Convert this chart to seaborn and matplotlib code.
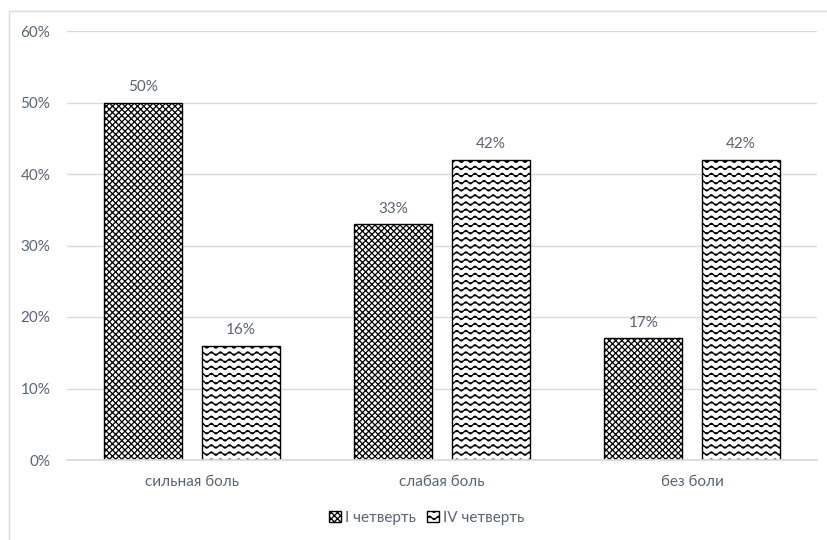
import numpy as np
import pandas as pd
import matplotlib
matplotlib.use("Agg")
import matplotlib.pyplot as plt
import matplotlib.hatch as mhatch
from matplotlib.path import Path
from matplotlib.patches import Rectangle
from matplotlib.ticker import FuncFormatter
import seaborn as sns

# ---- data -------------------------------------------------------------
categories = ["сильная боль", "слабая боль", "без боли"]
series = ["I четверть", "IV четверть"]
q1_values = [50, 33, 17]
q4_values = [16, 42, 42]
y_ticks = [0, 10, 20, 30, 40, 50, 60]


# ---- custom hatch patterns --------------------------------------------
class WaveHatch(mhatch.HatchPatternBase):
    """Rows of sine waves, one block of rows per '~'."""
    rows_per_char = 7
    periods = 11
    amplitude = 0.017
    points = 89

    def __init__(self, hatch, density):
        self.num_rows = int(hatch.count('~') * self.rows_per_char)
        self.num_vertices = self.num_rows * self.points

    def set_vertices_and_codes(self, vertices, codes):
        t = np.linspace(0.0, 1.0, self.points)
        ys = (np.arange(self.num_rows) + 0.5) / self.num_rows
        wave = self.amplitude * np.sin(2 * np.pi * self.periods * t)
        vertices[:, 0] = np.tile(t, self.num_rows)
        vertices[:, 1] = (ys[:, None] + wave[None, :]).ravel()
        c = np.full(self.points, Path.LINETO, dtype=codes.dtype)
        c[0] = Path.MOVETO
        codes[:] = np.tile(c, self.num_rows)


class FineGridHatch(mhatch.HatchPatternBase):
    """Dense diagonal lattice, 8 lines per '#' across the unit cell."""
    lines_per_char = 8

    def __init__(self, hatch, density):
        self.n = int(hatch.count('#') * self.lines_per_char)
        # two directions, 2n lines each (offsets -1..1), 2 vertices per line
        self.num_vertices = self.n * 2 * 2 * 2

    def set_vertices_and_codes(self, vertices, codes):
        n = self.n
        c = np.arange(-n, n) / n          # line offsets
        m = 2 * n
        # north-east lines: y = x + c
        vertices[0:2 * m:2, 0] = 0.0
        vertices[0:2 * m:2, 1] = c
        vertices[1:2 * m:2, 0] = 1.0
        vertices[1:2 * m:2, 1] = 1.0 + c
        # south-east lines: y = -x + 1 + c
        vertices[2 * m::2, 0] = 0.0
        vertices[2 * m::2, 1] = 1.0 + c
        vertices[2 * m + 1::2, 0] = 1.0
        vertices[2 * m + 1::2, 1] = c
        codes[0::2] = Path.MOVETO
        codes[1::2] = Path.LINETO


mhatch._hatch_types.extend([WaveHatch, FineGridHatch])
_orig_validate = mhatch._validate_hatch_pattern
mhatch._validate_hatch_pattern = lambda h: _orig_validate(
    h.replace('~', '').replace('#', '') if isinstance(h, str) else h)

# ---- figure -----------------------------------------------------------
sns.set_theme(style="white")
plt.rcParams["font.family"] = ["Lato", "DejaVu Sans"]
plt.rcParams["hatch.linewidth"] = 0.9

text_color = "#5b6472"
grid_color = "#d9d9d9"

df = pd.DataFrame({
    "category": categories * 2,
    "period": [series[0]] * 3 + [series[1]] * 3,
    "value": q1_values + q4_values,
})

fig = plt.figure(figsize=(8.28, 5.40), dpi=100)
ax = fig.add_axes([67 / 828, 80 / 540, 750 / 828, 429 / 540])

sns.barplot(data=df, x="category", y="value", hue="period",
            order=categories, hue_order=series,
            palette=["white", "white"], edgecolor="black", linewidth=1.0,
            width=0.78, gap=0.2, legend=False, ax=ax)

hatches = ["##", "~~"]
for container, hatch in zip(ax.containers, hatches):
    for bar in container:
        bar.set_hatch(hatch)
        bar.set_edgecolor("black")
    ax.bar_label(container, labels=[f"{v:.0f}%" for v in container.datavalues],
                 padding=6, color=text_color, fontsize=11)

ax.set_xlim(-0.5, 2.5)
ax.set_ylim(0, 60)
ax.set_yticks(y_ticks)
ax.yaxis.set_major_formatter(FuncFormatter(lambda v, _: f"{v:.0f}%"))
ax.grid(axis="y", color=grid_color, linewidth=1.0)
ax.set_axisbelow(True)
for side in ["top", "right", "left"]:
    ax.spines[side].set_visible(False)
ax.spines["bottom"].set_color(grid_color)
ax.tick_params(axis="both", length=0, colors=text_color, labelsize=11)
ax.tick_params(axis="y", pad=12)
ax.tick_params(axis="x", pad=11)
ax.set_xlabel("")
ax.set_ylabel("")

leg = ax.legend(ax.containers, series, loc="center", ncol=2,
                bbox_to_anchor=(427 / 828, (540 - 518) / 540),
                bbox_transform=fig.transFigure, frameon=False,
                fontsize=11, handlelength=0.75, handleheight=0.75,
                handletextpad=0.3, columnspacing=0.7)
for t in leg.get_texts():
    t.set_color(text_color)

# chart area border
fig.patches.append(Rectangle((9 / 828, -0.1), 1.2, (540 - 11) / 540 + 0.1,
                             transform=fig.transFigure, fill=False,
                             edgecolor=grid_color, linewidth=1.0))

fig.savefig("out.png", dpi=100)
